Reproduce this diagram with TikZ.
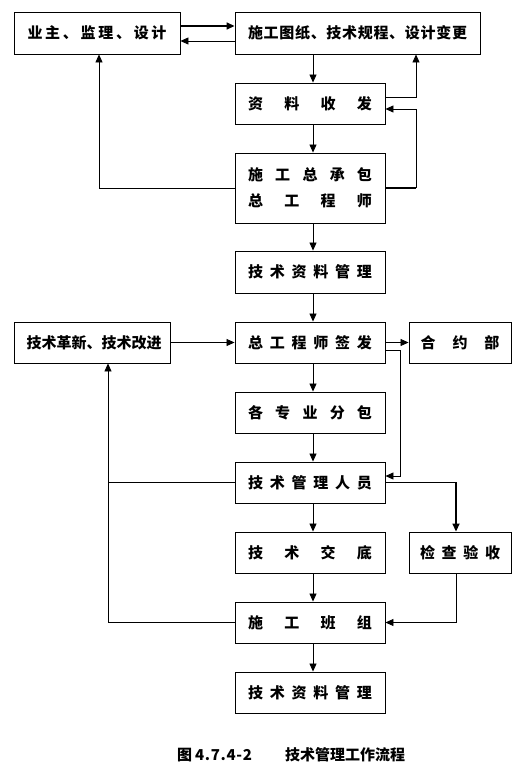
\documentclass[tikz,border=0pt]{standalone}
\usepackage{fontspec}
\setmainfont{Noto Sans CJK SC}
\usetikzlibrary{arrows.meta}
\newcommand\spr[2]{\makebox[#1][s]{#2}}
\tikzset{
  box/.style={draw, line width=0.9pt, inner sep=0pt, minimum height=42pt,
    font=\fontsize{15}{18}\selectfont\bfseries},
  mainbox/.style={box, minimum width=150pt},
  arr/.style={-{Triangle[length=8pt,width=7pt]}, line width=0.8pt},
  ln/.style={line width=0.8pt},
  heavy/.style={line width=1.6pt}
}
\begin{document}
\begin{tikzpicture}[x=1pt,y=-1pt]
\fill[white] (0,0) rectangle (524,778);
\useasboundingbox (0,0) rectangle (524,778);

\node[box, minimum width=166pt] (b1) at (97,33)
  {\spr{139pt}{业\hfill 主\hfill 、\hfill 监\hfill 理\hfill 、\hfill 设\hfill 计}};
\node[box, minimum width=245pt] (b2) at (357.5,33)
  {\spr{219pt}{施\hfill 工\hfill 图\hfill 纸\hfill 、\hfill 技\hfill 术\hfill 规\hfill 程\hfill 、\hfill 设\hfill 计\hfill 变\hfill 更}};
\node[mainbox, minimum height=41pt] (b3) at (310,103.5)
  {\spr{124pt}{资\hfill 料\hfill 收\hfill 发}};
\node[mainbox, minimum height=70pt, align=center] (b4) at (310,188)
  {\spr{124pt}{施\hfill 工\hfill 总\hfill 承\hfill 包}\\[8pt]\spr{124pt}{总\hfill 工\hfill 程\hfill 师}};
\node[mainbox] (b5) at (310,272)
  {\spr{124pt}{技\hfill 术\hfill 资\hfill 料\hfill 管\hfill 理}};
\node[mainbox, minimum height=41pt] (b6) at (310,342.5)
  {\spr{124pt}{总\hfill 工\hfill 程\hfill 师\hfill 签\hfill 发}};
\node[box, minimum width=156pt, minimum height=41pt] (bL) at (92,342.5)
  {\spr{131pt}{技\hfill 术\hfill 革\hfill 新\hfill 、\hfill 技\hfill 术\hfill 改\hfill 进}};
\node[box, minimum width=102pt, minimum height=41pt] (bR) at (460,342.5)
  {\spr{79pt}{合\hfill 约\hfill 部}};
\node[mainbox, minimum height=41pt] (b7) at (310,412.5)
  {\spr{124pt}{各\hfill 专\hfill 业\hfill 分\hfill 包}};
\node[mainbox, minimum height=41pt] (b8) at (310,482.5)
  {\spr{124pt}{技\hfill 术\hfill 管\hfill 理\hfill 人\hfill 员}};
\node[mainbox, minimum height=41pt] (b9) at (310,552.5)
  {\spr{124pt}{技\hfill 术\hfill 交\hfill 底}};
\node[box, minimum width=102pt, minimum height=41pt] (bR2) at (460,552.5)
  {\spr{80pt}{检\hfill 查\hfill 验\hfill 收}};
\node[mainbox, minimum height=41pt] (b10) at (310,622.5)
  {\spr{124pt}{施\hfill 工\hfill 班\hfill 组}};
\node[mainbox, minimum height=41pt] (b11) at (310,692.5)
  {\spr{124pt}{技\hfill 术\hfill 资\hfill 料\hfill 管\hfill 理}};

\node[font=\fontsize{15}{18}\selectfont\bfseries, inner sep=0pt] (cap) at (291,755)
  {图\hspace{3pt}\spr{57pt}{4\hfill .\hfill 7\hfill .\hfill 4\hfill -\hfill 2}\hspace{33pt}技术管理工作流程};

% top connectors
\coordinate (c3) at ([xshift=3pt]b3.north);
\draw[arr, heavy] ([yshift=7pt]b1.east) -- ([yshift=7pt]b2.west);
\draw[arr] ([yshift=-8pt]b2.west) -- ([yshift=-8pt]b1.east);
\draw[arr] (c3 |- b2.south) -- (c3);
\draw[arr] ([yshift=6.5pt]b3.east) -| ([xshift=58.5pt]b2.south);
\draw[heavy] (b4.east) -- (416,188);
\draw[arr] (416,188) -- (416,109) -- ([yshift=-5.5pt]b3.east);
\draw[arr] (b4.west) -| ([xshift=2pt]b1.south);
\draw[arr] ([xshift=3pt]b3.south) -- ([xshift=3pt]b4.north);
\draw[arr] ([xshift=3pt]b4.south) -- ([xshift=3pt]b5.north);
\draw[arr] ([xshift=3pt]b5.south) -- ([xshift=3pt]b6.north);

% middle connectors
\draw[arr] (bL.east) -- (b6.west);
\draw[arr] (b6.east) -- (bR.west);
\draw[arr] ([yshift=-7.5pt]b6.east) -- (400,350) |- ([yshift=6.5pt]b8.east);
\draw[arr] ([xshift=3pt]b6.south) -- ([xshift=3pt]b7.north);
\draw[arr] ([xshift=3pt]b7.south) -- ([xshift=3pt]b8.north);
\draw[arr] ([xshift=3pt]b8.south) -- ([xshift=3pt]b9.north);
\draw[arr] ([xshift=3pt]b9.south) -- ([xshift=3pt]b10.north);
\draw[arr] ([xshift=3pt]b10.south) -- ([xshift=3pt]b11.north);

% left feedback
\draw[ln] (b8.west) -- (108,482.5);
\draw[arr] (b10.west) -| ([xshift=16pt]bL.south);

% right branch
\draw[arr, heavy] (b8.east) -| ([xshift=-4pt]bR2.north);
\draw[arr] ([xshift=-4pt]bR2.south) |- (b10.east);
\end{tikzpicture}
\end{document}
